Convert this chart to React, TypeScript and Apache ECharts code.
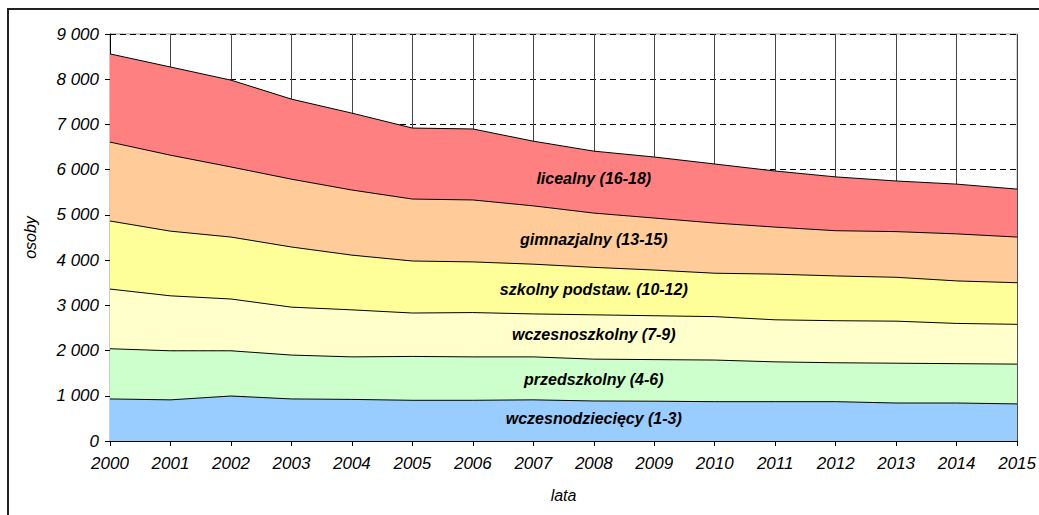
import React, { useEffect, useRef } from "react";
import * as echarts from "echarts";

const years = ["2000","2001","2002","2003","2004","2005","2006","2007","2008","2009","2010","2011","2012","2013","2014","2015"];

const seriesNames = [
  "wczesnodziecięcy (1-3)",
  "przedszkolny (4-6)",
  "wczesnoszkolny (7-9)",
  "szkolny podstaw. (10-12)",
  "gimnazjalny (13-15)",
  "licealny (16-18)",
];

const wczesnodzieciecy = [930, 910, 995, 930, 920, 900, 900, 910, 885, 880, 870, 870, 870, 840, 840, 820];
const przedszkolny = [1110, 1085, 1000, 970, 940, 970, 960, 950, 925, 920, 920, 880, 860, 880, 870, 880];
const wczesnoszkolny = [1320, 1215, 1145, 1060, 1040, 960, 980, 950, 980, 970, 960, 930, 930, 930, 890, 880];
const szkolnyPodstaw = [1505, 1430, 1370, 1330, 1210, 1150, 1120, 1100, 1050, 1010, 960, 1010, 990, 970, 940, 920];
const gimnazjalny = [1745, 1680, 1550, 1500, 1440, 1370, 1370, 1290, 1200, 1150, 1110, 1040, 1000, 1010, 1040, 1010];
const licealny = [1950, 1950, 1920, 1770, 1700, 1570, 1570, 1430, 1370, 1350, 1305, 1240, 1190, 1120, 1100, 1060];

const colors = ["#99CCFF", "#CCFFCC", "#FFFFCC", "#FFFF99", "#FFCC99", "#FF8080"];

// label anchor positions in data units (x index, y value)
const labelX = 7.5;
const labelY = [490, 1370, 2345, 3340, 4445, 5810];

const fmt = (v: number) => String(v).replace(/\B(?=(\d{3})+(?!\d))/g, " ");

export default function App() {
  const ref = useRef<HTMLDivElement>(null);
  useEffect(() => {
    document.documentElement.style.overflow = "hidden";
    document.body.style.overflow = "hidden";
    const chart = echarts.init(ref.current!, null, { renderer: "svg" });
    const data = [wczesnodzieciecy, przedszkolny, wczesnoszkolny, szkolnyPodstaw, gimnazjalny, licealny];
    const font = "Liberation Sans, Arial, sans-serif";
    chart.setOption({
      animation: false,
      backgroundColor: "#fff",
      grid: {
        left: 101,
        top: 24,
        right: 19,
        bottom: 74,
        containLabel: false,
        show: true,
        borderColor: "#999",
        borderWidth: 1,
      },
      xAxis: {
        type: "category",
        data: years,
        boundaryGap: false,
        name: "lata",
        nameLocation: "middle",
        nameGap: 46,
        nameTextStyle: { fontFamily: font, fontSize: 16, fontStyle: "italic", color: "#000" },
        axisLine: { lineStyle: { color: "#000", width: 1 } },
        axisTick: { show: true, length: 5, inside: false, lineStyle: { color: "#000" } },
        axisLabel: { fontFamily: font, fontSize: 17, fontStyle: "italic", color: "#000", margin: 14, interval: 0 },
        splitLine: { show: true, lineStyle: { color: "#444", width: 1, type: "solid" } },
      },
      yAxis: {
        type: "value",
        min: 0,
        max: 9000,
        interval: 1000,
        name: "osoby",
        nameLocation: "middle",
        nameGap: 72,
        nameRotate: 90,
        nameTextStyle: { fontFamily: font, fontSize: 16, fontStyle: "italic", color: "#000" },
        axisLine: { show: true, lineStyle: { color: "#000", width: 1 } },
        axisTick: { show: true, length: 5, lineStyle: { color: "#000" } },
        axisLabel: { fontFamily: font, fontSize: 17, fontStyle: "italic", color: "#000", margin: 11, formatter: fmt },
        splitLine: { show: true, lineStyle: { color: "#000", width: 1, type: [6, 4] } },
      },
      series: data.map((d, i) => ({
        name: seriesNames[i],
        type: "line",
        stack: "total",
        data: d,
        symbol: "none",
        lineStyle: { color: "#000", width: 1 },
        itemStyle: { color: colors[i] },
        areaStyle: { color: colors[i], opacity: 1 },
        z: 2,
      })),
    });
    const graphics = seriesNames.map((n, i) => {
      const p = chart.convertToPixel({ gridIndex: 0 }, [labelX, labelY[i]]) as number[];
      return {
        type: "text",
        x: p[0],
        y: p[1],
        z: 100,
        style: {
          text: n,
          fontFamily: font,
          fontSize: 16,
          fontWeight: "bold",
          fontStyle: "italic",
          fill: "#000",
          textAlign: "center",
          textVerticalAlign: "middle",
        },
      };
    });
    chart.setOption({ graphic: graphics });
    return () => chart.dispose();
  }, []);
  return (
    <div
      style={{
        position: "absolute",
        left: 7,
        top: 8,
        width: 1040,
        height: 515,
        borderLeft: "2px solid #222",
        borderTop: "2px solid #222",
        background: "#fff",
      }}
    >
      <div ref={ref} style={{ width: 1030, height: 505 }} />
    </div>
  );
}
